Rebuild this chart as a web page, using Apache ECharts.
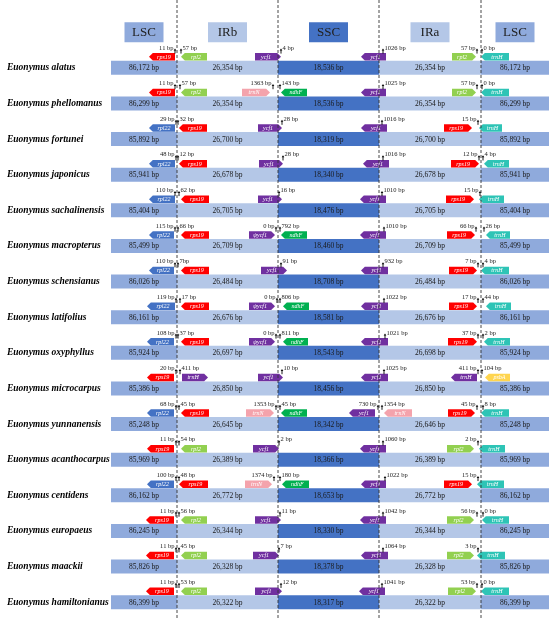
<!DOCTYPE html>
<html>
<head>
<meta charset="utf-8">
<script src="https://cdn.jsdelivr.net/npm/echarts@6/dist/echarts.min.js"></script>
<style>html,body{margin:0;padding:0;background:#fff}#main{width:550px;height:620px}</style>
</head>
<body>
<div id="main"></div>
<script>
/************ data ************/
var species = ['Euonymus alatus','Euonymus phellomanus','Euonymus fortunei','Euonymus japonicus',
  'Euonymus sachalinensis','Euonymus macropterus','Euonymus schensianus','Euonymus latifolius',
  'Euonymus oxyphyllus','Euonymus microcarpus','Euonymus yunnanensis','Euonymus acanthocarpus',
  'Euonymus centidens','Euonymus europaeus','Euonymus maackii','Euonymus hamiltonianus'];
var regions = ['LSC','IRb','SSC','IRa','LSC'];
var lscLen = [86172,86299,85892,85941,85404,85499,86026,86161,85924,85386,85248,85969,86162,86245,85826,86399];
var irbLen = [26354,26354,26700,26678,26705,26709,26484,26676,26697,26850,26645,26389,26772,26344,26328,26322];
var sscLen = [18536,18536,18319,18340,18476,18460,18708,18581,18543,18456,18342,18366,18653,18330,18378,18317];
var iraLen = [26354,26354,26700,26678,26705,26709,26484,26676,26698,26850,26646,26389,26772,26344,26328,26322];

// genes by row: [name, from, to, direction]  (schematic x, -1 = points left)
var genes = [
  [['rps19',149,175,-1],['rpl2',181,207,-1],['ycf1',255,281,1],['ycf1',361,386,-1],['rpl2',452,476,1],['trnH',481,509,-1]],
  [['rps19',149,175,-1],['rpl2',181,207,-1],['trnN',242,270,1],['ndhF',281,307,-1],['ycf1',361,386,-1],['rpl2',452,476,1],['trnH',481,509,-1]],
  [['rpl22',149,175,-1],['rps19',179,207,-1],['ycf1',258,282,1],['ycf1',361,387,-1],['rps19',444,472,1],['trnH',479,502,-1]],
  [['rpl22',149,175,-1],['rps19',179,207,-1],['ycf1',259,283,1],['ycf1',363,389,-1],['rps19',451,479,1],['trnH',484,509,-1]],
  [['rpl22',149,175,-1],['rps19',181,209,-1],['ycf1',258,282,1],['ycf1',360,386,-1],['rps19',446,474,1],['trnH',479,504,-1]],
  [['rpl22',149,174,-1],['rps19',181,209,-1],['ψycf1',249,275,1],['ndhF',281,307,-1],['ycf1',360,386,-1],['rps19',447,475,1],['trnH',486,510,-1]],
  [['rpl22',149,174,-1],['rps19',181,209,-1],['ycf1',261,287,1],['ycf1',361,388,-1],['rps19',449,477,1],['trnH',481,509,-1]],
  [['rpl22',147,175,-1],['rps19',181,209,-1],['ψycf1',249,275,1],['ndhF',283,309,-1],['ycf1',361,388,-1],['rps19',449,477,1],['trnH',486,511,-1]],
  [['rpl22',147,174,-1],['rps19',181,209,-1],['ψycf1',249,275,1],['ndhF',283,308,-1],['ycf1',361,388,-1],['rps19',448,477,1],['trnH',484,510,-1]],
  [['rps19',147,174,-1],['trnH',182,208,1],['ycf1',258,283,1],['ycf1',361,388,-1],['trnH',451,477,-1],['psbA',485,510,-1]],
  [['rpl22',147,174,-1],['rps19',181,209,-1],['trnN',246,274,1],['ndhF',281,307,-1],['ycf1',349,375,-1],['trnN',384,412,-1],['rps19',448,475,1],['trnH',481,509,-1]],
  [['rps19',147,174,-1],['rpl2',181,207,-1],['ycf1',253,279,1],['ycf1',360,386,-1],['rpl2',447,474,1],['trnH',479,505,-1]],
  [['rpl22',147,174,-1],['rps19',179,208,-1],['trnN',245,272,1],['ndhF',282,309,-1],['ycf1',361,386,-1],['rps19',444,472,1],['trnH',477,504,-1]],
  [['rps19',146,174,-1],['rpl2',181,207,-1],['ycf1',255,281,1],['ycf1',360,386,-1],['rpl2',447,474,1],['trnH',482,509,-1]],
  [['rps19',146,174,-1],['rpl2',181,207,-1],['ycf1',253,279,1],['ycf1',361,388,-1],['rpl2',447,474,1],['trnH',477,505,-1]],
  [['rps19',146,174,-1],['rpl2',181,207,-1],['ycf1',255,282,1],['ycf1',359,385,-1],['rpl2',448,476,1],['trnH',481,509,-1]]
];

// distances to the junctions by row: [text, arrow x, text side]
var bpLabels = [
  [['11 bp',175,'l'],['57 bp',181,'r'],['4 bp',281,'r'],['1026 bp',383,'r'],['57 bp',477,'l'],['0 bp',482,'r']],
  [['11 bp',175,'l'],['57 bp',180,'r'],['1363 bp',273,'l'],['143 bp',280,'r'],['1025 bp',383,'r'],['57 bp',477,'l'],['0 bp',482,'r']],
  [['29 bp',176,'l'],['32 bp',178,'r'],['28 bp',282,'r'],['1016 bp',382,'r'],['15 bp',478,'l']],
  [['48 bp',176,'l'],['12 bp',178,'r'],['28 bp',283,'r'],['1016 bp',383,'r'],['12 bp',479,'l'],['4 bp',483,'r']],
  [['110 bp',175,'l'],['62 bp',179,'r'],['16 bp',279,'r'],['1010 bp',382,'r'],['15 bp',480,'l']],
  [['115 bp',175,'l'],['66 bp',178,'r'],['0 bp',276,'l'],['792 bp',280,'r'],['1010 bp',384,'r'],['66 bp',476,'l'],['26 bp',484,'r']],
  [['110 bp',175,'l'],['7bp',178,'r'],['91 bp',281,'r'],['932 bp',383,'r'],['7 bp',478,'l'],['4 bp',483,'r']],
  [['119 bp',176,'l'],['17 bp',180,'r'],['0 bp',277,'l'],['806 bp',280,'r'],['1022 bp',384,'r'],['17 bp',478,'l'],['44 bp',483,'r']],
  [['108 bp',176,'l'],['37 bp',178,'r'],['0 bp',276,'l'],['811 bp',280,'r'],['1021 bp',385,'r'],['37 bp',478,'l'],['2 bp',483,'r']],
  [['20 bp',176,'l'],['411 bp',180,'r'],['10 bp',282,'r'],['1025 bp',384,'r'],['411 bp',478,'l'],['104 bp',482,'r']],
  [['68 bp',176,'l'],['45 bp',179,'r'],['1353 bp',276,'l'],['45 bp',280,'r'],['730 bp',378,'l'],['1354 bp',382,'r'],['45 bp',477,'l'],['8 bp',483,'r']],
  [['11 bp',176,'l'],['54 bp',179,'r'],['2 bp',279,'r'],['1060 bp',383,'r'],['2 bp',478,'l']],
  [['100 bp',176,'l'],['48 bp',179,'r'],['1374 bp',274,'l'],['180 bp',280,'r'],['1022 bp',385,'r'],['15 bp',478,'l']],
  [['11 bp',176,'l'],['56 bp',179,'r'],['11 bp',280,'r'],['1042 bp',383,'r'],['56 bp',477,'l'],['0 bp',483,'r']],
  [['11 bp',176,'l'],['45 bp',179,'r'],['7 bp',279,'r'],['1064 bp',383,'r'],['3 bp',478,'l']],
  [['11 bp',176,'l'],['53 bp',179,'r'],['12 bp',281,'r'],['1041 bp',382,'r'],['53 bp',477,'l'],['0 bp',482,'r']]
];

/************ layout / style ************/
var edges = [111, 177, 278, 379, 481, 549];   // schematic region borders
var serif = '"Liberation Serif","Times New Roman",serif';
var segColor = ['#8FAADC','#B4C7E7','#4472C4','#B4C7E7','#8FAADC'];
var geneColor = {rps19:'#FF0000', rpl2:'#92D050', rpl22:'#4472C4', ycf1:'#7030A0', 'ψycf1':'#7030A0',
  ndhF:'#00B050', trnN:'#F4A3AC', trnH:'#2EC4B6', psbA:'#FFD54F'};

function fmt(v){ return String(v).replace(/\B(?=(\d{3})+(?!\d))/g, ','); }

var segData = [];
species.forEach(function(s, i){
  [lscLen[i], irbLen[i], sscLen[i], iraLen[i], lscLen[i]].forEach(function(v, k){ segData.push([i, k, v]); });
});
var geneData = [], geneInfo = [];
genes.forEach(function(row, i){
  row.forEach(function(g){ geneData.push([i, g[1], g[2]]); geneInfo.push(g); });
});
var bpData = [], bpInfo = [];
bpLabels.forEach(function(row, i){
  row.forEach(function(b){ bpData.push([i, b[1]]); bpInfo.push(b); });
});

function renderSeg(params, api){
  var row = api.value(0), k = api.value(1);
  var p0 = api.coord([edges[k], row]), p1 = api.coord([edges[k + 1], row]);
  var h = api.size([0, 1])[1] * 0.39;
  return {type:'group', children:[
    {type:'rect', shape:{x:p0[0], y:p0[1] - h / 2, width:p1[0] - p0[0], height:h}, style:{fill:segColor[k]}},
    {type:'text', style:{text:fmt(api.value(2)) + ' bp', x:(p0[0] + p1[0]) / 2, y:p0[1] + 0.5,
      align:'center', verticalAlign:'middle', font:'7.5px ' + serif, fill:'#1a1a1a'}}
  ]};
}

function geneBox(api, row){
  var unit = api.size([0, 1])[1];
  var yc = api.coord([0, row])[1];
  var bot = yc - unit * 0.195 - 0.3;
  var gh = unit * 0.21;
  return {bot:bot, top:bot - gh, mid:bot - gh / 2, unit:unit, yc:yc};
}

function renderGene(params, api){
  var g = geneInfo[params.dataIndex], row = api.value(0);
  var b = geneBox(api, row);
  var x0 = api.coord([g[1], row])[0], x1 = api.coord([g[2], row])[0], t = 3.8;
  var pts = g[3] < 0
    ? [[x0, b.mid], [x0 + t, b.top], [x1, b.top], [x1, b.bot], [x0 + t, b.bot]]
    : [[x0, b.top], [x1 - t, b.top], [x1, b.mid], [x1 - t, b.bot], [x0, b.bot]];
  var col = geneColor[g[0]];
  if (g[0] === 'trnH' && g[2] < edges[4]) col = '#7030A0';   // IR copy of trnH
  var cx = g[3] < 0 ? (x0 + t + x1) / 2 : (x0 + x1 - t) / 2;
  return {type:'group', children:[
    {type:'polygon', shape:{points:pts}, style:{fill:col}},
    {type:'text', style:{text:g[0], x:cx, y:b.mid + 0.3, align:'center', verticalAlign:'middle',
      font:'italic 6px ' + serif, fill:'#fff'}}
  ]};
}

function renderBp(params, api){
  var l = bpInfo[params.dataIndex], row = api.value(0);
  var b = geneBox(api, row);
  var ax = api.coord([l[1], row])[0];
  var tipY = b.top - 4.6;
  var ty = b.yc - b.unit * 0.56;
  return {type:'group', children:[
    {type:'line', shape:{x1:ax, y1:b.top + 0.5, x2:ax, y2:tipY + 1.5}, style:{stroke:'#000', lineWidth:0.9}},
    {type:'polygon', shape:{points:[[ax - 1.3, tipY + 2], [ax + 1.3, tipY + 2], [ax, tipY]]}, style:{fill:'#000'}},
    {type:'text', style:{text:l[0], x:l[2] === 'l' ? ax - 1.5 : ax + 1.5, y:ty,
      align:l[2] === 'l' ? 'right' : 'left', verticalAlign:'middle', font:'6.5px ' + serif, fill:'#222'}}
  ]};
}

function renderHeader(params, api){
  var k = params.dataIndex;
  var xm = api.coord([(edges[k] + edges[k + 1]) / 2, 0]);
  var unit = api.size([0, 1])[1];
  var cy = xm[1] - unit;
  return {type:'group', children:[
    {type:'rect', shape:{x:xm[0] - 19.5, y:cy - 10, width:39, height:20}, style:{fill:segColor[k]}},
    {type:'text', style:{text:regions[k], x:xm[0], y:cy + 0.5, align:'center', verticalAlign:'middle',
      font:'13px ' + serif, fill:'#222'}}
  ]};
}

function renderJunction(params, api){
  var x = api.coord([edges[params.dataIndex + 1], 0])[0];
  return {type:'line', shape:{x1:x, y1:0, x2:x, y2:api.getHeight()},
    style:{stroke:'#333', lineWidth:0.9, lineDash:[3, 2]}};
}

var myChart = echarts.init(document.getElementById('main'));
var option = {
  animation: false,
  backgroundColor: '#fff',
  grid: {left: 0, right: 0, top: 50, height: 581},
  xAxis: {type: 'value', min: 0, max: 550, show: false},
  yAxis: {
    type: 'category', data: species, inverse: true,
    axisLine: {show: false}, axisTick: {show: false}, splitLine: {show: false},
    axisLabel: {inside: true, margin: 7, fontFamily: serif, fontStyle: 'italic', fontWeight: 'bold',
      fontSize: 9.5, color: '#000'}
  },
  series: [
    {type: 'custom', renderItem: renderSeg, data: segData, encode: {y: 0, x: 1}, z: 2},
    {type: 'custom', renderItem: renderGene, data: geneData, encode: {y: 0, x: 1}, z: 3},
    {type: 'custom', renderItem: renderBp, data: bpData, encode: {y: 0, x: 1}, z: 4},
    {type: 'custom', renderItem: renderHeader, data: [[0, 0], [0, 1], [0, 2], [0, 3], [0, 4]], encode: {y: 0, x: 1}, z: 3},
    {type: 'custom', renderItem: renderJunction, data: [[0, 1], [0, 2], [0, 3], [0, 4]], encode: {y: 0, x: 1}, z: 5}
  ]
};
myChart.setOption(option);
</script>
</body>
</html>
